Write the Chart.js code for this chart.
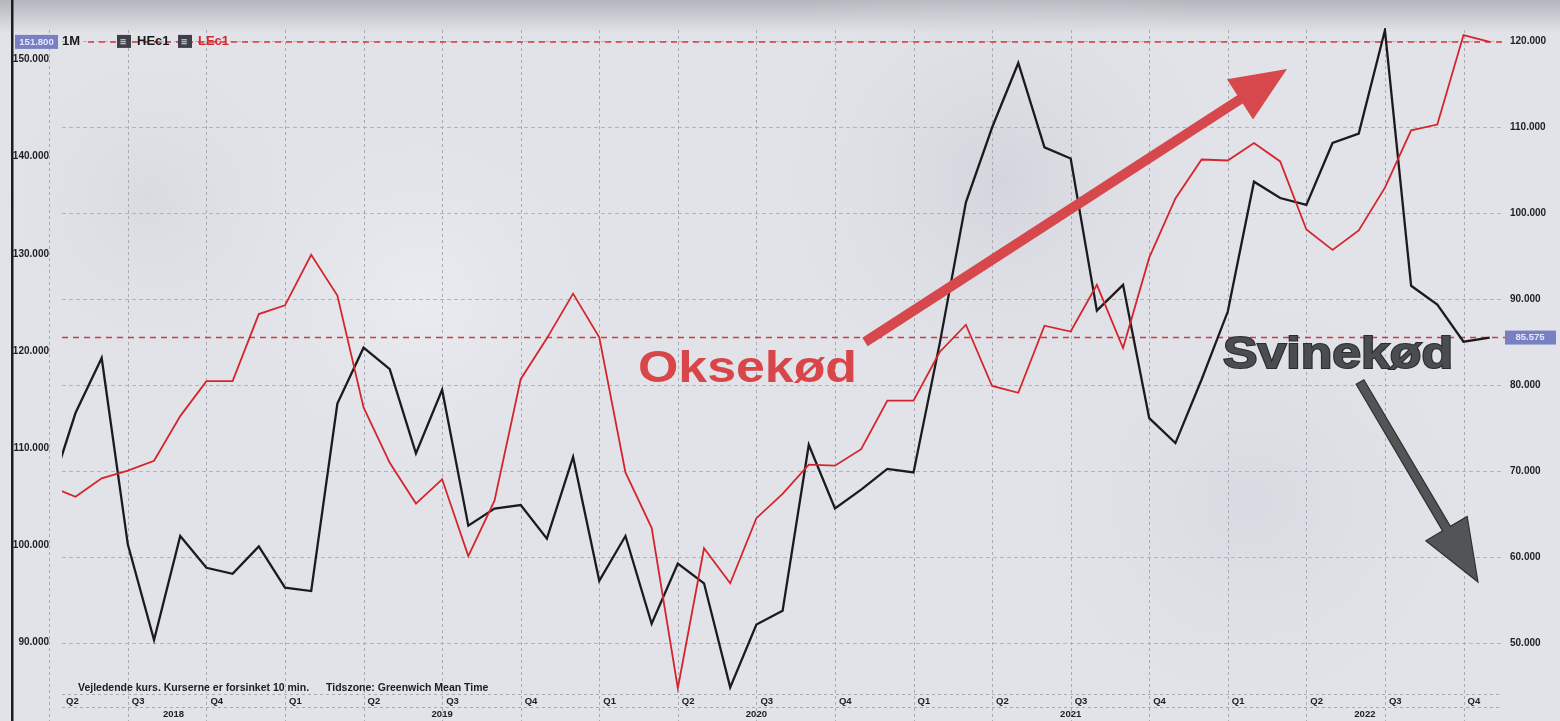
<!DOCTYPE html>
<html><head><meta charset="utf-8">
<script src="https://cdn.jsdelivr.net/npm/chart.js@4.4.0/dist/chart.umd.min.js"></script>
<style>html,body{margin:0;padding:0;background:#e2e3e9;overflow:hidden}canvas{display:block}</style>
</head><body>
<canvas id="c" width="1560" height="721"></canvas>
<script>
// ---- data (monthly, Apr 2018 .. Nov 2022) ----
const months = ['2018-04','2018-05','2018-06','2018-07','2018-08','2018-09','2018-10','2018-11','2018-12',
 '2019-01','2019-02','2019-03','2019-04','2019-05','2019-06','2019-07','2019-08','2019-09','2019-10','2019-11','2019-12',
 '2020-01','2020-02','2020-03','2020-04','2020-05','2020-06','2020-07','2020-08','2020-09','2020-10','2020-11','2020-12',
 '2021-01','2021-02','2021-03','2021-04','2021-05','2021-06','2021-07','2021-08','2021-09','2021-10','2021-11','2021-12',
 '2022-01','2022-02','2022-03','2022-04','2022-05','2022-06','2022-07','2022-08','2022-09','2022-10','2022-11'];
// HEc1 (lean hogs, right axis)
const hogs = [67.3, 76.8, 83.2, 61.5, 50.4, 62.5, 58.8, 58.1, 61.3,
 56.5, 56.1, 77.9, 84.4, 81.9, 72.1, 79.5, 63.7, 65.7, 66.1, 62.2, 71.7,
 57.3, 62.5, 52.3, 59.3, 57.0, 44.9, 52.2, 53.8, 73.1, 65.7, 67.9, 70.3,
 69.9, 84.9, 101.3, 110.0, 117.5, 107.7, 106.4, 88.7, 91.7, 76.2, 73.3, 80.7,
 88.6, 103.7, 101.8, 101.0, 108.2, 109.3, 121.3, 91.6, 89.4, 85.1, 85.575];
// LEc1 (live cattle, left axis)
const cattle = [106.1, 105.0, 106.9, 107.7, 108.7, 113.3, 116.9, 116.9, 123.8,
 124.7, 129.9, 125.7, 114.2, 108.5, 104.3, 106.8, 98.9, 104.6, 117.1, 121.3, 125.9,
 121.4, 107.5, 101.8, 85.3, 99.7, 96.1, 102.8, 105.3, 108.3, 108.2, 109.9, 114.9,
 114.9, 119.9, 122.7, 116.4, 115.7, 122.6, 122.0, 126.8, 120.3, 129.6, 135.7, 139.7,
 139.6, 141.4, 139.5, 132.5, 130.4, 132.4, 136.8, 142.7, 143.3, 152.5, 151.8];
const quarterStarts = [0,3,6,9,12,15,18,21,24,27,30,33,36,39,42,45,48,51,54];
const quarterLabels = ['Q2','Q3','Q4','Q1','Q2','Q3','Q4','Q1','Q2','Q3','Q4','Q1','Q2','Q3','Q4','Q1','Q2','Q3','Q4'];
const yearLabels = ['2018','2019','2020','2021','2022'];
const yearStarts = [-3,9,21,33,45];
const leftTicks = [90,100,110,120,130,140,150];
const rightTicks = [50,60,70,80,90,100,110,120];
const lastCattle = 151.8;
const lastHogs = 85.575;

const FONT = '"Liberation Sans", Arial, sans-serif';
const fmt = v => Number(v).toFixed(3);

function arrow(ctx, x1, y1, x2, y2, w, hl, hw, fill, stroke){
  const a = Math.atan2(y2-y1, x2-x1);
  const len = Math.hypot(x2-x1, y2-y1);
  ctx.save();
  ctx.translate(x1,y1); ctx.rotate(a);
  ctx.beginPath();
  ctx.moveTo(0,-w/2); ctx.lineTo(len-hl,-w/2); ctx.lineTo(len-hl,-hw);
  ctx.lineTo(len,0); ctx.lineTo(len-hl,hw); ctx.lineTo(len-hl,w/2); ctx.lineTo(0,w/2);
  ctx.closePath();
  ctx.fillStyle = fill; ctx.fill();
  if(stroke){ctx.strokeStyle=stroke; ctx.lineWidth=1.2; ctx.stroke();}
  ctx.restore();
}

const deco = {
  id:'deco',
  beforeDraw(chart){
    const {ctx, width, height} = chart;
    ctx.save();
    ctx.fillStyle = '#e2e3e9';
    ctx.fillRect(0,0,width,height);
    const g = ctx.createLinearGradient(0,0,0,32);
    g.addColorStop(0,'#b4b6bd'); g.addColorStop(1,'#e0e1e7');
    ctx.fillStyle = g; ctx.fillRect(0,0,width,32);
    const blob = (x,y,r,c)=>{const rg=ctx.createRadialGradient(x,y,0,x,y,r);rg.addColorStop(0,c);rg.addColorStop(1,'rgba(226,227,233,0)');ctx.fillStyle=rg;ctx.fillRect(x-r,y-r,2*r,2*r);};
    blob(1000,180,260,'rgba(200,202,210,0.55)');
    blob(420,300,220,'rgba(240,241,246,0.6)');
    blob(1250,500,260,'rgba(205,207,215,0.45)');
    blob(150,200,180,'rgba(205,207,214,0.4)');
    ctx.restore();
  },
  beforeDatasetsDraw(chart){
    const {ctx, chartArea:ca, scales} = chart;
    const xs = scales.x, yL = scales.yL, yR = scales.yR;
    ctx.save();
    ctx.strokeStyle = '#a9aab4'; ctx.lineWidth = 1; ctx.setLineDash([3,3]);
    quarterStarts.forEach(q=>{
      const x = Math.round(xs.getPixelForValue(q))+0.5;
      ctx.beginPath(); ctx.moveTo(x, 30); ctx.lineTo(x, 721); ctx.stroke();
    });
    [ca.bottom+0.5, 707.5].forEach(y=>{
      ctx.beginPath(); ctx.moveTo(ca.left, y); ctx.lineTo(ca.right, y); ctx.stroke();
    });
    ctx.strokeStyle = '#d43a3c'; ctx.lineWidth = 1.5; ctx.setLineDash([6,5]);
    let y = yL.getPixelForValue(lastCattle);
    ctx.beginPath(); ctx.moveTo(88, y); ctx.lineTo(ca.right+4, y); ctx.stroke();
    y = yR.getPixelForValue(lastHogs);
    ctx.beginPath(); ctx.moveTo(ca.left, y); ctx.lineTo(ca.right+4, y); ctx.stroke();
    ctx.restore();
  },
  afterDraw(chart){
    const {ctx, chartArea:ca, scales} = chart;
    const xs = scales.x, yL = scales.yL, yR = scales.yR;
    ctx.save();
    ctx.fillStyle = '#1c1c1c'; ctx.fillRect(11,0,2.5,721);
    ctx.fillStyle = '#202020'; ctx.font = 'bold 9.5px ' + FONT;
    ctx.textBaseline = 'middle'; ctx.textAlign = 'left';
    quarterStarts.forEach((q,i)=>{
      const x = Math.max(xs.getPixelForValue(q), ca.left);
      ctx.fillText(quarterLabels[i], x+4, 701);
    });
    ctx.textAlign = 'center';
    yearLabels.forEach((yr,i)=>{
      const a = Math.max(xs.getPixelForValue(yearStarts[i]), ca.left);
      const b = Math.min(xs.getPixelForValue(yearStarts[i]+12), ca.right);
      ctx.fillText(yr, (a+b)/2, 714);
    });
    ctx.textAlign = 'left'; ctx.font = 'bold 10.5px ' + FONT;
    ctx.fillText('Vejledende kurs. Kurserne er forsinket 10 min.', 78, 688);
    ctx.fillText('Tidszone: Greenwich Mean Time', 326, 688);
    let yv = yL.getPixelForValue(lastCattle);
    ctx.fillStyle = '#7880c2'; ctx.fillRect(15, yv-7, 43, 14);
    ctx.fillStyle = '#e4e7ff'; ctx.font = 'bold 9.5px ' + FONT; ctx.textAlign='center';
    ctx.fillText(fmt(lastCattle), 36.5, yv);
    ctx.textAlign = 'left'; ctx.font = 'bold 13px ' + FONT;
    ctx.fillStyle = '#1a1a1a'; ctx.fillText('1M', 62, yv);
    [[117,'#1a1a1a','HEc1'],[178,'#d42a2e','LEc1']].forEach(([x,c,t])=>{
      ctx.fillStyle = '#3e3f48'; ctx.fillRect(x, yv-7, 14, 13);
      ctx.fillStyle = '#d8d8e0'; ctx.font = 'bold 7px ' + FONT; ctx.fillText('\u2630', x+3, yv);
      ctx.fillStyle = c; ctx.font = 'bold 13px ' + FONT; ctx.fillText(t, x+20, yv);
    });
    yv = yR.getPixelForValue(lastHogs);
    ctx.fillStyle = '#7880c2'; ctx.fillRect(ca.right+3, yv-7, 51, 14);
    ctx.fillStyle = '#e4e7ff'; ctx.font = 'bold 9.5px ' + FONT; ctx.textAlign='center';
    ctx.fillText(fmt(lastHogs), ca.right+28, yv);
    arrow(ctx, 865, 342, 1287, 69, 10, 56, 24, '#d6484c');
    arrow(ctx, 1360, 382, 1478, 582, 9, 62, 24, '#525456', '#2e3032');
    const bigText = (t, x, yb, w, fill, stroke)=>{
      ctx.save(); ctx.font = 'bold 44px ' + FONT; ctx.textAlign='left'; ctx.textBaseline='alphabetic';
      const m = ctx.measureText(t).width; ctx.translate(x, yb); ctx.scale(w/m, 1);
      if(stroke){ctx.strokeStyle=stroke; ctx.lineWidth=2; ctx.strokeText(t,0,0);}
      ctx.fillStyle = fill; ctx.fillText(t, 0, 0); ctx.restore();
    };
    bigText('Oksekød', 638, 382, 219, '#d8464a');
    bigText('Svinekød', 1223, 368, 230, '#4a4d50', '#2a2c2e');
    ctx.restore();
  }
};

new Chart(document.getElementById('c'), {
  type: 'line',
  data: {
    datasets: [
      { label:'HEc1', yAxisID:'yR', data: months.map((m,i)=>({x:i, y:hogs[i]})),
        borderColor:'#1b1b1d', borderWidth:2.3, pointRadius:0, tension:0, order:2 },
      { label:'LEc1', yAxisID:'yL', data: months.map((m,i)=>({x:i, y:cattle[i]})),
        borderColor:'#d3262c', borderWidth:1.8, pointRadius:0, tension:0, order:1 }
    ]
  },
  options: {
    responsive:false, animation:false, events:[],
    layout:{ padding:{ top:28, left:0, right:0, bottom:0 } },
    plugins:{ legend:{display:false}, tooltip:{enabled:false} },
    scales:{
      x:{ type:'linear', min:0.485, max:55.47, position:'bottom',
          grid:{display:false}, border:{display:false}, ticks:{display:false},
          afterFit(s){ s.height = 27; s.paddingLeft=0; s.paddingRight=0; } },
      yL:{ type:'linear', position:'left', min:84.71, max:153.23,
           grid:{display:false}, border:{display:false},
           afterBuildTicks(s){ s.ticks = leftTicks.map(v=>({value:v})); },
           ticks:{ callback:fmt, color:'#1e1e1e', padding:5, font:{family:FONT, size:10, weight:'bold'} },
           afterFit(s){ s.width = 62; s.paddingTop=0; s.paddingBottom=0; } },
      yR:{ type:'linear', position:'right', min:44.13, max:121.57,
           grid:{color:'#b2b3bd', lineWidth:1, drawTicks:false}, border:{display:false, dash:[4,3]},
           afterBuildTicks(s){ s.ticks = rightTicks.map(v=>({value:v})); },
           ticks:{ callback:fmt, color:'#1e1e1e', padding:8, font:{family:FONT, size:10, weight:'bold'} },
           afterFit(s){ s.width = 58; s.paddingTop=0; s.paddingBottom=0; } }
    }
  },
  plugins:[deco]
});
</script>
</body></html>
